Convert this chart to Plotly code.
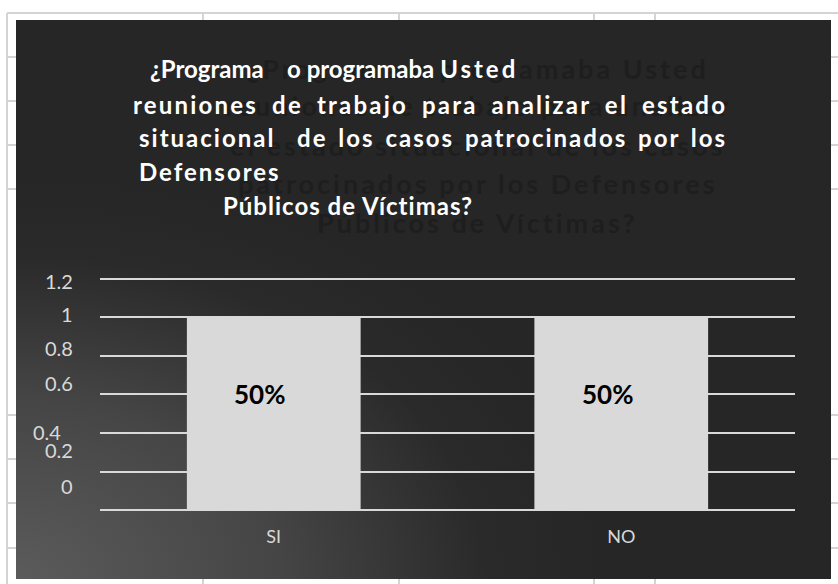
import base64
import plotly.graph_objects as go

W, H = 838, 584

# ---------------- data ----------------
categories = ["SI", "NO"]
values = [1, 1]
pct_labels = ["50%", "50%"]
y_tick_vals = [0, 0.2, 0.4, 0.6, 0.8, 1.0, 1.2]
y_tick_text = ["0", "0.2", "0.4", "0.6", "0.8", "1", "1.2"]
# where the (misplaced) tick labels appear in the original, in axis units
y_label_pos = [0.125, 0.31, 0.405, 0.66, 0.84, 1.02, 1.19]
y_label_right = [75, 75, 63, 75, 75, 75, 75]

title_lines = [
    "¿Programa&nbsp;&nbsp;&nbsp; o programaba <span style='letter-spacing:3px'>Usted</span>",
    "reuniones de trabajo para analizar el estado",
    "situacional&nbsp; de los casos patrocinados por los",
    "Defensores",
    "Públicos de Víctimas?",
]
shadow_lines = [
    "¿Programa o programaba Usted",
    "reuniones de trabajo para analizar",
    "el estado situacional de los casos",
    "patrocinados por los Defensores",
    "Públicos de Víctimas?",
]

# ---------------- helpers ----------------
def fx(x):
    return x / W

def fy(y):
    return 1 - y / H

FONT = "Lato, 'Open Sans', sans-serif"

# axis geometry: value 0 at 510 px, 0.2 step = 38.5 px
Y0_PX, PX_PER_UNIT = 510, 192.5
Y_MAX = 1.21

# gradient background of the chart area (as an SVG image)
gw, gh = 815, 559
svg = f'''<svg xmlns="http://www.w3.org/2000/svg" width="{gw}" height="{gh}" viewBox="0 0 {gw} {gh}">
<defs><radialGradient id="g" cx="0" cy="1" r="0.72">
<stop offset="0" stop-color="#5b5b5b"/>
<stop offset="0.45" stop-color="#454545"/>
<stop offset="0.8" stop-color="#2a2a2a"/>
<stop offset="1" stop-color="#262626"/>
</radialGradient></defs>
<rect width="{gw}" height="{gh}" fill="#262626"/>
<rect width="{gw}" height="{gh}" fill="url(#g)"/>
</svg>'''
src = "data:image/svg+xml;base64," + base64.b64encode(svg.encode()).decode()

fig = go.Figure()
fig.add_trace(go.Bar(
    x=categories, y=values,
    marker=dict(color="#d9d9d9", line=dict(width=0)),
    hoverinfo="skip",
))

# spreadsheet cell lines outside the chart object
shapes = []
cell_color = "#d4d4d4"
shapes.append(dict(type="line", xref="paper", yref="paper", x0=fx(7), x1=fx(838), y0=fy(13), y1=fy(13),
                   line=dict(color=cell_color, width=2), layer="below"))
shapes.append(dict(type="line", xref="paper", yref="paper", x0=fx(7), x1=fx(7), y0=fy(13), y1=fy(584),
                   line=dict(color=cell_color, width=2), layer="below"))
for yy in [57, 101, 145, 189, 415, 459, 503, 548]:
    shapes.append(dict(type="line", xref="paper", yref="paper", x0=fx(7), x1=fx(16), y0=fy(yy), y1=fy(yy),
                       line=dict(color=cell_color, width=2), layer="below"))
    shapes.append(dict(type="line", xref="paper", yref="paper", x0=fx(831), x1=fx(838), y0=fy(yy), y1=fy(yy),
                       line=dict(color=cell_color, width=2), layer="below"))
for xx in [203, 399, 594, 655]:
    shapes.append(dict(type="line", xref="paper", yref="paper", x0=fx(xx), x1=fx(xx), y0=fy(13), y1=fy(20),
                       line=dict(color=cell_color, width=2), layer="below"))
    shapes.append(dict(type="line", xref="paper", yref="paper", x0=fx(xx), x1=fx(xx), y0=fy(579), y1=fy(584),
                       line=dict(color=cell_color, width=2), layer="below"))

annotations = []
# shadow title (dark, behind)
shadow_y = [69, 106, 145, 184, 222]
for t, yy in zip(shadow_lines, shadow_y):
    annotations.append(dict(
        text=f"<span style='letter-spacing:3px'>{t}</span>", xref="paper", yref="paper",
        x=fx(478), y=fy(yy), xanchor="center", yanchor="middle", showarrow=False,
        font=dict(family=FONT, size=27, color="#1e1e1e", weight="bold"),
    ))
# white title lines
title_specs = [
    (148, 69, 24, ""),
    (131, 104, 24, "letter-spacing:2.2px;word-spacing:6px"),
    (137, 138, 24, "letter-spacing:2px;word-spacing:3px"),
    (137, 171, 24, "letter-spacing:2px"),
    (221, 206, 24, "letter-spacing:1px"),
]
for t, (xx, yy, sz, st) in zip(title_lines, title_specs):
    txt = f"<span style='{st}'>{t}</span>" if st else t
    annotations.append(dict(
        text=txt, xref="paper", yref="paper", x=fx(xx), y=fy(yy),
        xanchor="left", yanchor="middle", showarrow=False,
        font=dict(family=FONT, size=sz, color="#ffffff", weight="bold"),
    ))
# y tick labels (as in the original, slightly displaced)
for t, yv, xr in zip(y_tick_text, y_label_pos, y_label_right):
    annotations.append(dict(
        text=t, xref="paper", yref="y", x=fx(xr), y=yv, xanchor="right", yanchor="middle",
        showarrow=False, font=dict(family=FONT, size=20, color="#d9d9d9"),
    ))
# data labels
for c, p in zip(categories, pct_labels):
    annotations.append(dict(
        text=f"<b>{p}</b>", x=c, y=0.6, xref="x", yref="y", xshift=-14,
        showarrow=False, font=dict(family=FONT, size=26, color="#000000"),
    ))

fig.update_layout(
    width=W, height=H,
    margin=dict(l=0, r=0, t=0, b=0),
    paper_bgcolor="#ffffff",
    plot_bgcolor="rgba(0,0,0,0)",
    showlegend=False,
    bargap=0.5,
    images=[dict(source=src, xref="paper", yref="paper", x=fx(16), y=fy(20),
                 sizex=gw / W, sizey=gh / H, sizing="stretch", xanchor="left", yanchor="top",
                 layer="below")],
    shapes=shapes,
    annotations=annotations,
    xaxis=dict(domain=[fx(100), fx(795)], showgrid=False, zeroline=False, showline=False,
               ticks="", tickfont=dict(family=FONT, size=18, color="#d9d9d9"),
               ticklabelstandoff=14),
    yaxis=dict(domain=[fy(Y0_PX), fy(Y0_PX - Y_MAX * PX_PER_UNIT)], range=[0, Y_MAX],
               tickvals=y_tick_vals, showticklabels=False,
               showgrid=True, gridcolor="#d9d9d9", gridwidth=2, zeroline=True,
               zerolinecolor="#d9d9d9", zerolinewidth=2, showline=False, ticks=""),
)

fig.write_html("out.html", config=dict(displayModeBar=False),
               post_script="document.body.style.margin='0';document.body.style.overflow='hidden';")
